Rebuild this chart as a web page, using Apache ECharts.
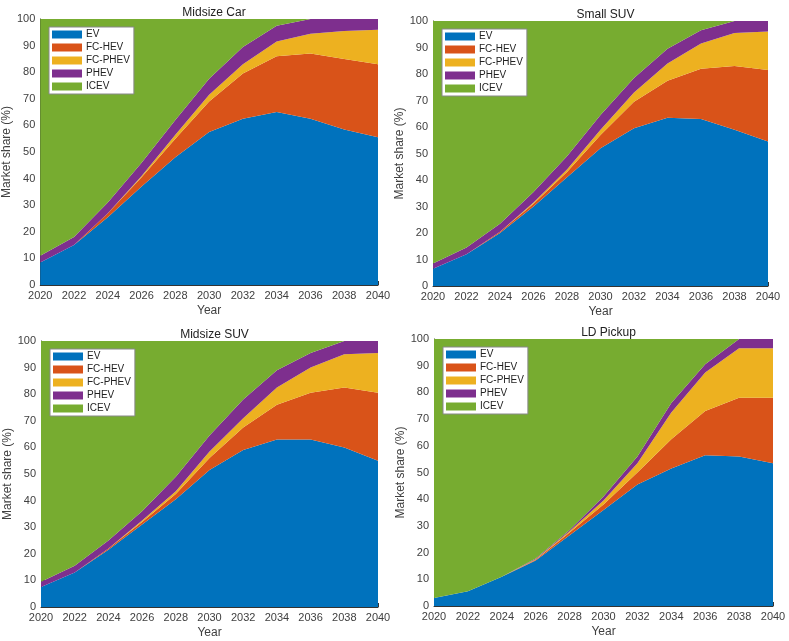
<!DOCTYPE html>
<html>
<head>
<meta charset="utf-8">
<script src="https://cdn.jsdelivr.net/npm/echarts@6/dist/echarts.min.js"></script>
<style>
html,body{margin:0;padding:0;background:#fff;}
#chart{width:789px;height:641px;}
</style>
</head>
<body>
<div id="chart"></div>
<script>
// Categories
const years = ['2020', '2022', '2024', '2026', '2028', '2030', '2032', '2034', '2036', '2038', '2040'];
const seriesNames = ['EV', 'FC-HEV', 'FC-PHEV', 'PHEV', 'ICEV'];
const chartTitles = ['Midsize Car', 'Small SUV', 'Midsize SUV', 'LD Pickup'];
const yTicks = [0, 10, 20, 30, 40, 50, 60, 70, 80, 90, 100];

// Midsize Car shares (%)
const carEV     = [8.5, 15, 25.5, 37, 48, 57.5, 62.5, 65, 62.5, 58.5, 55.5];
const carFCHEV  = [0, 0, 1.5, 3.5, 7, 11.5, 17, 21, 24.5, 26.5, 27.5];
const carFCPHEV = [0, 0, 0, 0.5, 1.5, 2.5, 3.5, 5.5, 7.5, 10.5, 13];
const carPHEV   = [2.5, 3, 4, 5, 5.5, 6, 6.5, 6, 5.5, 4.5, 4];
const carICEV   = [89, 82, 69, 54, 38, 22.5, 10.5, 2.5, 0, 0, 0];

// Small SUV shares (%)
const ssuvEV     = [6.5, 12, 20, 30, 41, 52, 59.5, 63.5, 63, 59, 54.5];
const ssuvFCHEV  = [0, 0, 0.5, 1, 2, 5, 10, 14, 19, 24, 27];
const ssuvFCPHEV = [0, 0, 0, 0.5, 1, 2, 3.5, 6.5, 9.5, 12.5, 14.5];
const ssuvPHEV   = [2, 2.5, 3, 4, 5, 5.5, 5.5, 5.5, 5, 4.5, 4];
const ssuvICEV   = [91.5, 85.5, 76.5, 64.5, 51, 35.5, 21.5, 10.5, 3.5, 0, 0];

// Midsize SUV shares (%)
const msuvEV     = [7.5, 13, 21.5, 31, 40.5, 51.5, 59, 63, 63, 60, 55];
const msuvFCHEV  = [0, 0, 0.5, 1, 2, 4.5, 8.5, 13, 17.5, 22.5, 25.5];
const msuvFCPHEV = [0, 0, 0, 0.5, 1, 2.5, 3.5, 6.5, 9.5, 12.5, 15];
const msuvPHEV   = [2, 2.5, 3, 3.5, 5.5, 6, 7, 6.5, 5.5, 5, 4.5];
const msuvICEV   = [90.5, 84.5, 75, 64, 51, 35.5, 22, 11, 4.5, 0, 0];

// LD Pickup shares (%)
const pickEV     = [3, 5.5, 11, 17, 26.5, 36, 45.5, 51.5, 56.5, 56, 53.5];
const pickFCHEV  = [0, 0, 0, 0.3, 1, 2, 4.5, 11, 16.5, 22, 24.5];
const pickFCPHEV = [0, 0, 0, 0.2, 0.5, 1.5, 3.5, 10, 14.5, 18.5, 18.5];
const pickPHEV   = [0, 0, 0, 0.3, 0.5, 1.5, 2.5, 3.5, 3, 3.5, 3.5];
const pickICEV   = [97, 94.5, 89, 82.2, 71.5, 59, 44, 24, 9.5, 0, 0];

const panels = [
  [carEV, carFCHEV, carFCPHEV, carPHEV, carICEV],
  [ssuvEV, ssuvFCHEV, ssuvFCPHEV, ssuvPHEV, ssuvICEV],
  [msuvEV, msuvFCHEV, msuvFCPHEV, msuvPHEV, msuvICEV],
  [pickEV, pickFCHEV, pickFCPHEV, pickPHEV, pickICEV]
];

const colors = ['#0072BD', '#D95319', '#EDB120', '#7E2F8E', '#77AC30'];

// Layout (pixels)
const grids = [
  {left: 40, top: 19, width: 338, height: 266},
  {left: 433, top: 21, width: 335, height: 265},
  {left: 41, top: 341, width: 337, height: 266},
  {left: 434, top: 339, width: 339, height: 267}
];
const legendPos = [
  {left: 49, top: 27},
  {left: 442, top: 29},
  {left: 50, top: 349},
  {left: 443, top: 347}
];

const FONT = 'Liberation Sans, Arial, sans-serif';
const labelColor = '#404040';
const axisColor = '#333';

const option = {
  animation: false,
  backgroundColor: '#fff',
  color: colors,
  title: chartTitles.map((t, i) => ({
    text: t,
    left: grids[i].left + grids[i].width / 2,
    textAlign: 'center',
    top: grids[i].top - 17,
    textStyle: {fontFamily: FONT, fontSize: 12, fontWeight: 'normal', color: '#222'}
  })),
  legend: legendPos.map((p) => ({
    data: seriesNames,
    orient: 'vertical',
    left: p.left,
    top: p.top,
    icon: 'rect',
    itemWidth: 30,
    itemHeight: 8,
    itemGap: 2,
    padding: [2, 4, 2, 3],
    backgroundColor: '#fff',
    borderColor: '#888',
    borderWidth: 1,
    borderRadius: 0,
    selectedMode: false,
    textStyle: {fontFamily: FONT, fontSize: 10, color: '#222', lineHeight: 11, padding: [0, 0, 0, -1]}
  })),
  grid: grids.map(g => Object.assign({containLabel: false}, g)),
  xAxis: grids.map((g, i) => ({
    type: 'category',
    gridIndex: i,
    data: years,
    boundaryGap: false,
    name: 'Year',
    nameLocation: 'middle',
    nameGap: 20,
    nameTextStyle: {fontFamily: FONT, fontSize: 12, color: labelColor},
    axisLine: {show: true, onZero: false, lineStyle: {color: axisColor, width: 1}},
    axisTick: {show: true, inside: true, length: 4, interval: 0, lineStyle: {color: axisColor}},
    axisLabel: {fontFamily: FONT, fontSize: 11, color: labelColor, margin: 5, interval: 0},
    splitLine: {show: false}
  })),
  yAxis: grids.map((g, i) => ({
    type: 'value',
    gridIndex: i,
    min: yTicks[0],
    max: yTicks[yTicks.length - 1],
    interval: yTicks[1] - yTicks[0],
    name: 'Market share (%)',
    nameLocation: 'middle',
    nameGap: 24,
    nameTextStyle: {fontFamily: FONT, fontSize: 12, color: labelColor},
    axisLine: {show: true, lineStyle: {color: axisColor, width: 1}},
    axisTick: {show: true, inside: true, length: 4, lineStyle: {color: axisColor}},
    axisLabel: {fontFamily: FONT, fontSize: 11, color: labelColor, margin: 5},
    splitLine: {show: false}
  })),
  series: []
};

panels.forEach((panel, pi) => {
  panel.forEach((vals, si) => {
    option.series.push({
      name: seriesNames[si],
      type: 'line',
      xAxisIndex: pi,
      yAxisIndex: pi,
      stack: 'panel' + pi,
      symbol: 'none',
      smooth: false,
      lineStyle: {width: 0},
      areaStyle: {color: colors[si], opacity: 1},
      itemStyle: {color: colors[si]},
      data: vals.slice()
    });
  });
});

const chart = echarts.init(document.getElementById('chart'), null, {renderer: 'canvas'});
chart.setOption(option);
</script>
</body>
</html>
